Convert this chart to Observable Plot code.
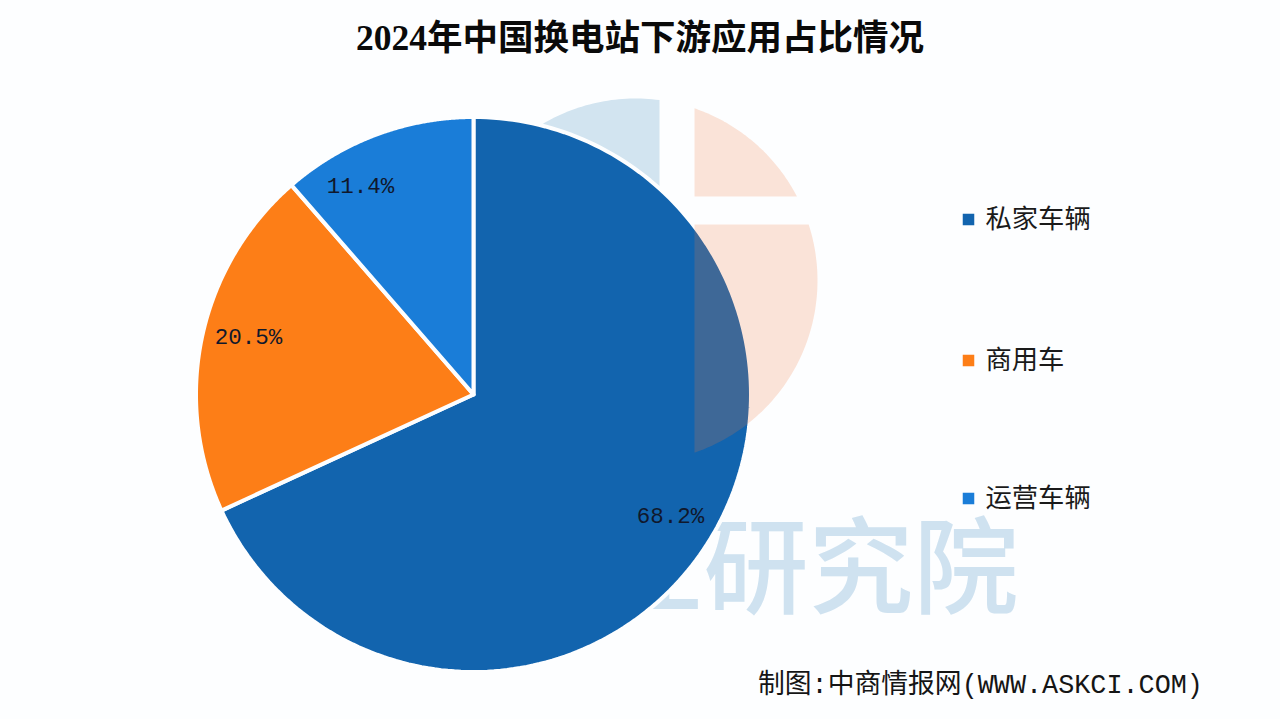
<!DOCTYPE html>
<html lang="zh">
<head>
<meta charset="utf-8">
<script src="https://cdn.jsdelivr.net/npm/d3@7"></script>
<script src="https://cdn.jsdelivr.net/npm/@observablehq/plot@0.6"></script>
<style>
  html, body { margin: 0; padding: 0; background: #fdfeff; width: 1280px; height: 719px; overflow: hidden; }
  #title { height: 72px; text-align: center; font: 700 35.5px/76px "Liberation Serif", "Noto Sans CJK SC", serif; color: #0a0a0a; }
  #chart { height: 600px; }
  #chart svg { display: block; background: transparent; }
  #caption { position: absolute; left: 758px; top: 669px; white-space: nowrap; font: 400 26.8px/34px "Liberation Mono", "Noto Sans CJK SC", monospace; color: #151515; }
</style>
</head>
<body>
<div id="title"></div>
<div id="chart"></div>
<div id="caption"></div>
<script>
// Data
const titleText = "2024年中国换电站下游应用占比情况";
const captionText = "制图:中商情报网(WWW.ASKCI.COM)";
const categories = ["私家车辆", "商用车", "运营车辆"];
const shares = [68.2, 20.5, 11.4];
const shareLabels = ["68.2%", "20.5%", "11.4%"];
const watermarkText = "业研究院";

// Style and layout
const colors = ["#1264ae", "#fd7e17", "#1a7dd8"];
const pieCentre = [473, 394], pieRadius = 277.5;
const labelAt = [[670, 515], [248, 336], [360, 185]];
const legendY = [219, 360, 498];
const legendSwatchX = 968, legendTextX = 985;
const wmCentre = [635, 280], wmRadius = 182;
const wmEdgeX = 694, wmBlueEdgeX = 659, wmGapTop = 196, wmGapBottom = 224;

document.getElementById("title").textContent = titleText;
document.getElementById("caption").textContent = captionText;

// Pie outlines from the values
const steps = 180;
const arcs = d3.pie().sort(null).value((d, i) => shares[i])(categories);
const slices = arcs.flatMap(a => {
  const pts = [{name: a.data, x: pieCentre[0], y: pieCentre[1]}];
  for (let k = 0; k <= steps; ++k) {
    const t = a.startAngle + (a.endAngle - a.startAngle) * k / steps;
    pts.push({name: a.data, x: pieCentre[0] + pieRadius * Math.sin(t), y: pieCentre[1] - pieRadius * Math.cos(t)});
  }
  pts.push(pts[0]);
  return pts;
});

// Faint logo pieces behind and over the pie
function capPiece(piece, corners, t0, t1) {
  const pts = corners.map(([x, y]) => ({piece, x, y}));
  for (let k = 0; k <= 60; ++k) {
    const t = t0 + (t1 - t0) * k / 60;
    pts.push({piece, x: wmCentre[0] + wmRadius * Math.cos(t), y: wmCentre[1] + wmRadius * Math.sin(t)});
  }
  return pts;
}
const xAngle = e => Math.acos((e - wmCentre[0]) / wmRadius);
const yAngle = e => Math.asin((e - wmCentre[1]) / wmRadius);
const blueLogo = capPiece("blue", [[wmBlueEdgeX, wmGapTop]], -xAngle(wmBlueEdgeX), -Math.PI - yAngle(wmGapTop));
const peachLogo = [
  ...capPiece("upper", [[wmEdgeX, wmGapTop]], -xAngle(wmEdgeX), yAngle(wmGapTop)),
  ...capPiece("lower", [[wmEdgeX, wmGapBottom]], yAngle(wmGapBottom), xAngle(wmEdgeX))
];

const labels = shareLabels.map((text, i) => ({text, x: labelAt[i][0], y: labelAt[i][1]}));
const legend = categories.map((name, i) => ({name, y: legendY[i]}));

const plot = Plot.plot({
  width: 1280, height: 600,
  marginTop: 0, marginRight: 0, marginBottom: 0, marginLeft: 0,
  x: {domain: [0, 1280], range: [0, 1280], axis: null},
  y: {domain: [72, 672], range: [0, 600], axis: null},
  color: {domain: categories, range: colors},
  marks: [
    Plot.text([watermarkText], {x: 808, y: 571, text: d => d, fontSize: 105, fontWeight: 500,
      fontFamily: "'Noto Sans CJK SC'", fill: "#cfe2f0"}),
    Plot.line(blueLogo, {x: "x", y: "y", z: "piece", fill: "#d2e4f0", stroke: "none"}),
    Plot.line(slices, {x: "x", y: "y", z: "name", fill: "name", stroke: "#fdfeff", strokeWidth: 4}),
    Plot.line(peachLogo, {x: "x", y: "y", z: "piece", fill: "#ee7a3c", fillOpacity: 0.2, stroke: "none"}),
    Plot.text(labels, {x: "x", y: "y", text: "text", fontSize: 22.5, fontFamily: "'Liberation Mono'", fill: "#10182c"}),
    Plot.dot(legend, {x: legendSwatchX, y: "y", fill: "name", symbol: "square", r: 6.5, stroke: "none"}),
    Plot.text(legend, {x: legendTextX, y: "y", text: "name", textAnchor: "start", fontSize: 26.3,
      fontFamily: "'Noto Sans CJK SC'", fill: "#1a1a1a"})
  ]
});
document.getElementById("chart").appendChild(plot);
</script>
</body>
</html>
